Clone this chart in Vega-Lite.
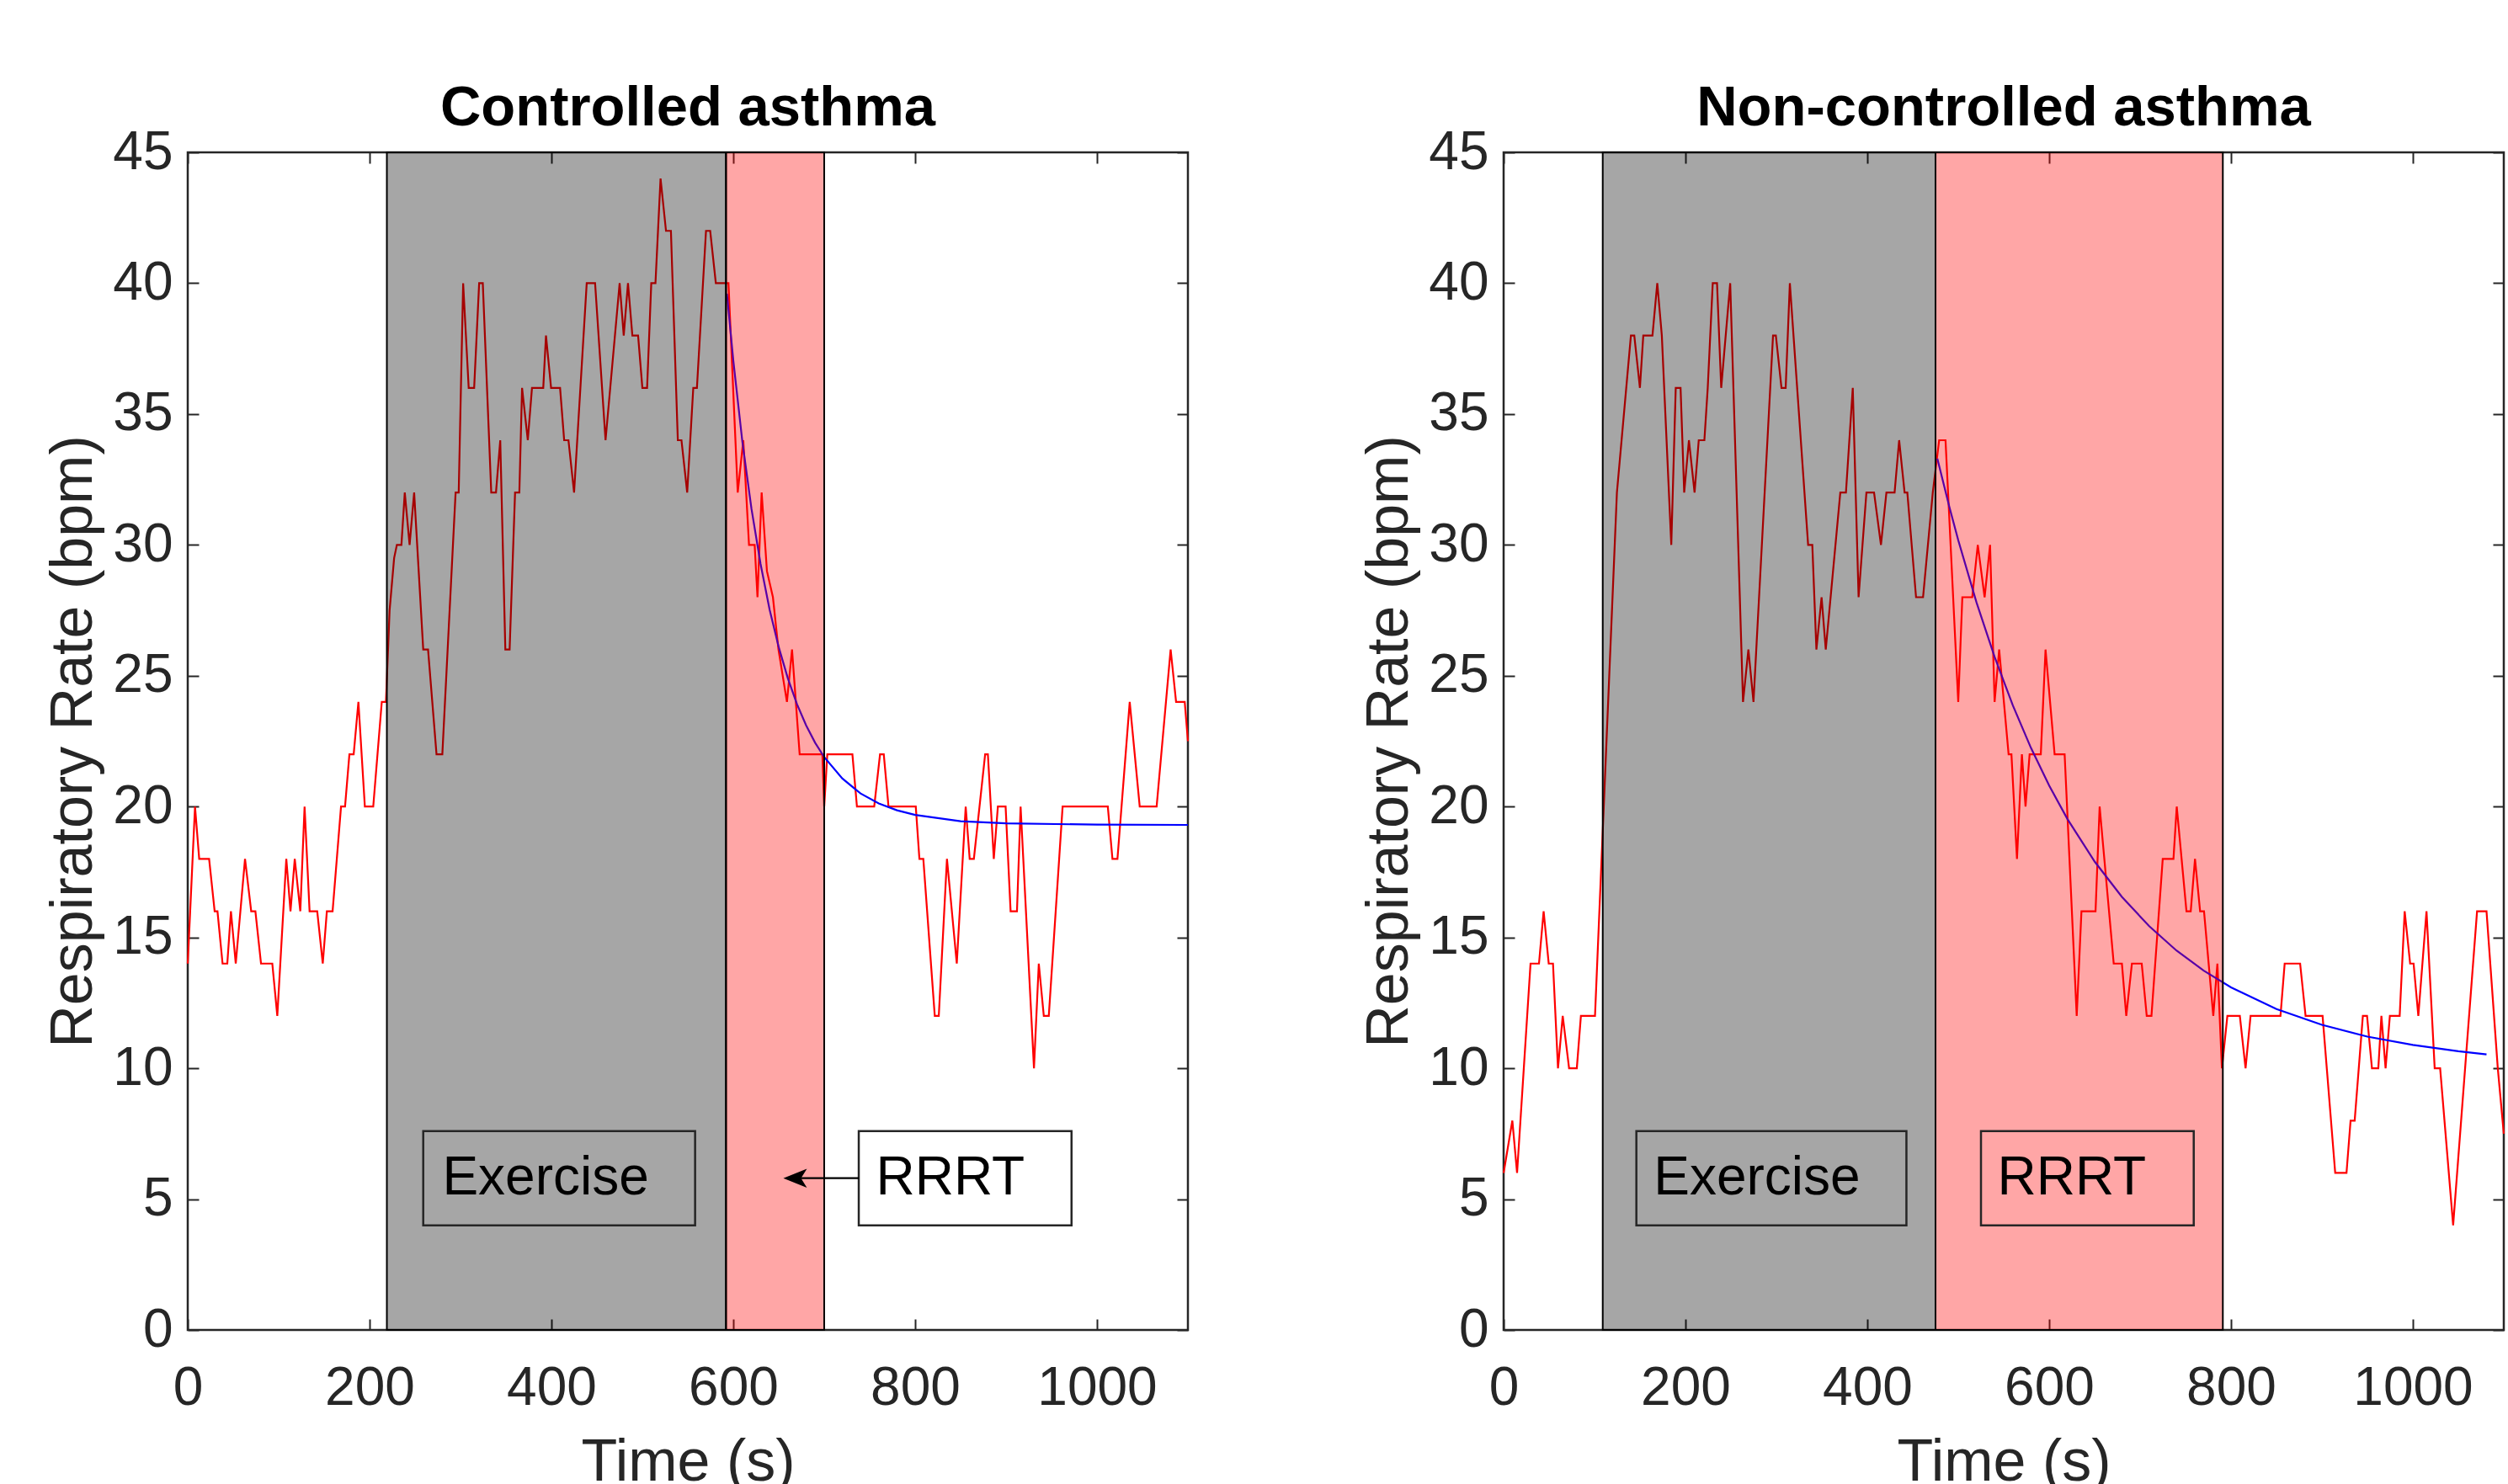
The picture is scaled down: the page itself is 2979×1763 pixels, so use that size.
{
  "$schema": "https://vega.github.io/schema/vega-lite/v6.json",
  "background": "white",
  "padding": {"left": 51, "top": 93, "right": 0, "bottom": 0},
  "spacing": 197,
  "config": {
    "font": "Liberation Sans",
    "view": {"stroke": "#262626", "strokeWidth": 2.5},
    "axis": {"grid": false, "domain": false, "tickColor": "#262626", "tickWidth": 2, "tickSize": -13,
      "labelFontSize": 64, "labelColor": "#262626", "titleFontSize": 70, "titleColor": "#262626",
      "titleFontWeight": "normal", "labelFont": "Liberation Sans", "titleFont": "Liberation Sans", "labelFlush": false, "labelOverlap": false},
    "title": {"fontSize": 67, "fontWeight": "bold", "color": "black", "offset": -14, "anchor": "middle", "font": "Liberation Sans"}
  },
  "datasets": {
    "left_rr": [
      {"t":0,"v":14},{"t":8,"v":20},{"t":12.6,"v":18},{"t":23.5,"v":18},{"t":29.6,"v":16},{"t":32.7,"v":16},{"t":38.3,"v":14},{"t":43.5,"v":14},{"t":47.5,"v":16},{"t":52.8,"v":14},{"t":63,"v":18},{"t":69.8,"v":16},{"t":74.4,"v":16},{"t":80.6,"v":14},{"t":93,"v":14},{"t":98.5,"v":12},{"t":108.4,"v":18},{"t":113,"v":16},{"t":117.7,"v":18},{"t":123.8,"v":16},{"t":128.5,"v":20},{"t":134,"v":16},{"t":142.4,"v":16},{"t":148.5,"v":14},{"t":153,"v":16},{"t":159.3,"v":16},{"t":168.6,"v":20},{"t":173,"v":20},{"t":177.8,"v":22},{"t":182.5,"v":22},{"t":187.7,"v":24},{"t":194.8,"v":20},{"t":204,"v":20},{"t":213.4,"v":24},{"t":218,"v":24},{"t":222,"v":27.5},{"t":227,"v":29.5},{"t":230,"v":30},{"t":235,"v":30},{"t":238.7,"v":32},{"t":244,"v":30},{"t":249,"v":32},{"t":259,"v":26},{"t":264.3,"v":26},{"t":273.6,"v":22},{"t":280,"v":22},{"t":294.6,"v":32},{"t":298,"v":32},{"t":302.9,"v":40},{"t":309,"v":36},{"t":315,"v":36},{"t":320.5,"v":40},{"t":324.5,"v":40},{"t":333.8,"v":32},{"t":339,"v":32},{"t":343.7,"v":34},{"t":349.3,"v":26},{"t":354,"v":26},{"t":360,"v":32},{"t":364.7,"v":32},{"t":367.7,"v":36},{"t":374,"v":34},{"t":378.6,"v":36},{"t":391,"v":36},{"t":394,"v":38},{"t":399.6,"v":36},{"t":409.5,"v":36},{"t":414,"v":34},{"t":418.7,"v":34},{"t":424.9,"v":32},{"t":438.8,"v":40},{"t":448,"v":40},{"t":459.5,"v":34},{"t":475,"v":40},{"t":479.5,"v":38},{"t":484.2,"v":40},{"t":489,"v":38},{"t":495.3,"v":38},{"t":500,"v":36},{"t":505.2,"v":36},{"t":509.8,"v":40},{"t":514.4,"v":40},{"t":520,"v":44},{"t":526,"v":42},{"t":531.4,"v":42},{"t":539,"v":34},{"t":543,"v":34},{"t":549.3,"v":32},{"t":556,"v":36},{"t":560,"v":36},{"t":570,"v":42},{"t":574.6,"v":42},{"t":580.8,"v":40},{"t":594.7,"v":40},{"t":604.9,"v":32},{"t":611,"v":34},{"t":617.3,"v":30},{"t":623.5,"v":30},{"t":626.6,"v":28},{"t":631.2,"v":32},{"t":637,"v":29},{"t":643.6,"v":28},{"t":649.7,"v":26},{"t":659,"v":24},{"t":664.6,"v":26},{"t":673,"v":22},{"t":698,"v":22},{"t":700,"v":20},{"t":703.4,"v":22},{"t":731,"v":22},{"t":736,"v":20},{"t":755,"v":20},{"t":761.4,"v":22},{"t":765.5,"v":22},{"t":770.7,"v":20},{"t":800.7,"v":20},{"t":804.7,"v":18},{"t":809,"v":18},{"t":821.6,"v":12},{"t":826,"v":12},{"t":835,"v":18},{"t":845.8,"v":14},{"t":855.6,"v":20},{"t":860,"v":18},{"t":864.6,"v":18},{"t":877,"v":22},{"t":880,"v":22},{"t":886.5,"v":18},{"t":891,"v":20},{"t":899.5,"v":20},{"t":905,"v":16},{"t":912,"v":16},{"t":916,"v":20},{"t":930.7,"v":10},{"t":936,"v":14},{"t":941.5,"v":12},{"t":947,"v":12},{"t":962.2,"v":20},{"t":1011.9,"v":20},{"t":1017,"v":18},{"t":1022.5,"v":18},{"t":1036,"v":24},{"t":1047,"v":20},{"t":1065.6,"v":20},{"t":1081,"v":26},{"t":1087,"v":24},{"t":1096.5,"v":24},{"t":1100,"v":22.5}
    ],
    "left_fit": [
      {"t":593,"v":39.6},{"t":600,"v":37.05},{"t":610,"v":33.94},{"t":620,"v":31.38},{"t":630,"v":29.27},{"t":640,"v":27.52},{"t":650,"v":26.09},{"t":660,"v":24.9},{"t":670,"v":23.92},{"t":680,"v":23.11},{"t":690,"v":22.44},{"t":700,"v":21.89},{"t":720,"v":21.07},{"t":740,"v":20.5},{"t":760,"v":20.12},{"t":780,"v":19.86},{"t":800,"v":19.68},{"t":850,"v":19.44},{"t":900,"v":19.36},{"t":1000,"v":19.31},{"t":1100,"v":19.3}
    ],
    "left_bands": [
      {"phase":"Exercise","start":219,"end":592},
      {"phase":"RRRT","start":592,"end":700}
    ],
    "left_boxes": [
      {"label":"Exercise","x0":259,"x1":558,"y0":4.0,"y1":7.6,"tx":280,"ty":5.8},
      {"label":"RRRT","x0":738,"x1":972,"y0":4.0,"y1":7.6,"tx":757,"ty":5.8}
    ],
    "left_arrow": [{"head":668,"tail":738,"back":672,"y":5.8}],
    "right_rr": [
      {"t":0,"v":6},{"t":9.6,"v":8},{"t":14.8,"v":6},{"t":29.6,"v":14},{"t":38.9,"v":14},{"t":44,"v":16},{"t":49.6,"v":14},{"t":54.3,"v":14},{"t":59.8,"v":10},{"t":65,"v":12},{"t":72,"v":10},{"t":80.5,"v":10},{"t":85,"v":12},{"t":100.5,"v":12},{"t":124.6,"v":32},{"t":140,"v":38},{"t":143.7,"v":38},{"t":149.9,"v":36},{"t":153.6,"v":38},{"t":163.7,"v":38},{"t":169,"v":40},{"t":174,"v":38},{"t":184.4,"v":30},{"t":189.3,"v":36},{"t":194.6,"v":36},{"t":198.6,"v":32},{"t":203.8,"v":34},{"t":210,"v":32},{"t":214.6,"v":34},{"t":220.8,"v":34},{"t":224.5,"v":36},{"t":230,"v":40},{"t":234.7,"v":40},{"t":239.3,"v":36},{"t":249.2,"v":40},{"t":263.3,"v":24},{"t":269.2,"v":26},{"t":274.8,"v":24},{"t":296.3,"v":38},{"t":299.4,"v":38},{"t":305.6,"v":36},{"t":310.2,"v":36},{"t":314.8,"v":40},{"t":334.9,"v":30},{"t":339.5,"v":30},{"t":344,"v":26},{"t":349.7,"v":28},{"t":354.3,"v":26},{"t":370.3,"v":32},{"t":376.5,"v":32},{"t":384,"v":36},{"t":390.4,"v":28},{"t":399,"v":32},{"t":407.4,"v":32},{"t":415,"v":30},{"t":421,"v":32},{"t":430,"v":32},{"t":435,"v":34},{"t":441,"v":32},{"t":444,"v":32},{"t":453.6,"v":28},{"t":461.3,"v":28},{"t":472,"v":32},{"t":479,"v":34},{"t":486,"v":34},{"t":500,"v":24},{"t":504.5,"v":28},{"t":515.4,"v":28},{"t":521.5,"v":30},{"t":529,"v":28},{"t":535,"v":30},{"t":540,"v":24},{"t":545,"v":26},{"t":555.4,"v":22},{"t":558.5,"v":22},{"t":564.6,"v":18},{"t":570,"v":22},{"t":574,"v":20},{"t":578.5,"v":22},{"t":590.8,"v":22},{"t":596,"v":26},{"t":606,"v":22},{"t":617,"v":22},{"t":630.3,"v":12},{"t":635.5,"v":16},{"t":651,"v":16},{"t":655.5,"v":20},{"t":671,"v":14},{"t":680,"v":14},{"t":684.8,"v":12},{"t":691,"v":14},{"t":701.8,"v":14},{"t":707.3,"v":12},{"t":712.5,"v":12},{"t":724.9,"v":18},{"t":736.7,"v":18},{"t":740.3,"v":20},{"t":751,"v":16},{"t":755.7,"v":16},{"t":760.4,"v":18},{"t":766,"v":16},{"t":770.3,"v":16},{"t":780.5,"v":12},{"t":785,"v":14},{"t":790,"v":10},{"t":796,"v":12},{"t":809.7,"v":12},{"t":816,"v":10},{"t":821.5,"v":12},{"t":854.4,"v":12},{"t":859,"v":14},{"t":876,"v":14},{"t":882,"v":12},{"t":900.7,"v":12},{"t":914.6,"v":6},{"t":927,"v":6},{"t":931.5,"v":8},{"t":936,"v":8},{"t":945,"v":12},{"t":949.6,"v":12},{"t":955,"v":10},{"t":962,"v":10},{"t":965.4,"v":12},{"t":970,"v":10},{"t":974.7,"v":12},{"t":985.5,"v":12},{"t":991,"v":16},{"t":997,"v":14},{"t":1000.8,"v":14},{"t":1006,"v":12},{"t":1015,"v":16},{"t":1024,"v":10},{"t":1030,"v":10},{"t":1044.3,"v":4},{"t":1070.6,"v":16},{"t":1081,"v":16},{"t":1093.4,"v":10},{"t":1100,"v":7.5}
    ],
    "right_fit": [
      {"t":477,"v":33.3},{"t":490,"v":31.48},{"t":500,"v":30.18},{"t":520,"v":27.81},{"t":540,"v":25.72},{"t":560,"v":23.87},{"t":580,"v":22.24},{"t":600,"v":20.8},{"t":620,"v":19.53},{"t":650,"v":17.9},{"t":680,"v":16.55},{"t":710,"v":15.43},{"t":740,"v":14.5},{"t":770,"v":13.73},{"t":800,"v":13.09},{"t":850,"v":12.26},{"t":900,"v":11.66},{"t":950,"v":11.21},{"t":1000,"v":10.89},{"t":1050,"v":10.65},{"t":1081,"v":10.53}
    ],
    "right_bands": [
      {"phase":"Exercise","start":109,"end":475},
      {"phase":"RRRT","start":475,"end":791}
    ],
    "right_boxes": [
      {"label":"Exercise","x0":146,"x1":443,"y0":4.0,"y1":7.6,"tx":165,"ty":5.8},
      {"label":"RRRT","x0":525,"x1":759,"y0":4.0,"y1":7.6,"tx":543,"ty":5.8}
    ]
  },
  "hconcat": [
    {
      "width": 1188, "height": 1399,
      "title": {"text": "Controlled asthma"},
      "layer": [
        {"data": {"name": "left_rr"}, "mark": {"type": "line", "color": "#ff0000", "strokeWidth": 2.2},
          "encoding": {
            "x": {"field": "t", "type": "quantitative", "scale": {"domain": [0, 1100], "nice": false, "zero": false},
              "axis": {"orient": "bottom", "values": [0, 200, 400, 600, 800, 1000], "format": "d", "labelPadding": 50, "title": "Time (s)", "titlePadding": 22}},
            "y": {"field": "v", "type": "quantitative", "scale": {"domain": [0, 45], "nice": false},
              "axis": {"orient": "left", "values": [0, 5, 10, 15, 20, 25, 30, 35, 40, 45], "labelPadding": 31, "title": "Respiratory Rate (bpm)", "titlePadding": 10}}
          }},
        {"data": {"name": "left_fit"}, "mark": {"type": "line", "color": "#0000ff", "strokeWidth": 2.2},
          "encoding": {
            "x": {"field": "t", "type": "quantitative", "axis": {"orient": "top", "values": [0, 200, 400, 600, 800, 1000], "labels": false, "title": null}},
            "y": {"field": "v", "type": "quantitative", "axis": {"orient": "right", "values": [0, 5, 10, 15, 20, 25, 30, 35, 40, 45], "labels": false, "title": null}}
          }},
        {"data": {"name": "left_bands"}, "mark": {"type": "rect", "stroke": "#000000", "strokeWidth": 2, "fillOpacity": 0.35},
          "encoding": {
            "x": {"field": "start", "type": "quantitative", "axis": null},
            "x2": {"field": "end"},
            "y": {"datum": 0, "type": "quantitative", "axis": null},
            "y2": {"datum": 45},
            "fill": {"field": "phase", "type": "nominal", "scale": {"domain": ["Exercise", "RRRT"], "range": ["#000000", "#ff0000"]}, "legend": null}
          }},
        {"data": {"name": "left_boxes"}, "mark": {"type": "rect", "fillOpacity": 0, "fill": "white", "stroke": "#262626", "strokeWidth": 2.5},
          "encoding": {
            "x": {"field": "x0", "type": "quantitative", "axis": null},
            "x2": {"field": "x1"},
            "y": {"field": "y0", "type": "quantitative", "axis": null},
            "y2": {"field": "y1"}
          }},
        {"data": {"name": "left_boxes"}, "mark": {"type": "text", "align": "left", "baseline": "middle", "fontSize": 64, "color": "#000000", "font": "Liberation Sans"},
          "encoding": {
            "x": {"field": "tx", "type": "quantitative", "axis": null},
            "y": {"field": "ty", "type": "quantitative", "axis": null},
            "text": {"field": "label"}
          }},
        {"data": {"name": "left_arrow"}, "mark": {"type": "rule", "color": "#000000", "strokeWidth": 2.2},
          "encoding": {
            "x": {"field": "back", "type": "quantitative", "axis": null},
            "x2": {"field": "tail"},
            "y": {"field": "y", "type": "quantitative", "axis": null}
          }},
        {"data": {"name": "left_arrow"}, "mark": {"type": "point", "shape": "M -1 0 L 1 -0.8 L 0.5 0 L 1 0.8 Z", "filled": true, "color": "#000000", "opacity": 1, "size": 784},
          "encoding": {
            "x": {"field": "head", "type": "quantitative", "axis": null},
            "y": {"field": "y", "type": "quantitative", "axis": null}
          }}
      ],
      "resolve": {"axis": {"x": "independent", "y": "independent"}}
    },
    {
      "width": 1188, "height": 1399,
      "title": {"text": "Non-controlled asthma"},
      "layer": [
        {"data": {"name": "right_rr"}, "mark": {"type": "line", "color": "#ff0000", "strokeWidth": 2.2},
          "encoding": {
            "x": {"field": "t", "type": "quantitative", "scale": {"domain": [0, 1100], "nice": false, "zero": false},
              "axis": {"orient": "bottom", "values": [0, 200, 400, 600, 800, 1000], "format": "d", "labelPadding": 50, "title": "Time (s)", "titlePadding": 22}},
            "y": {"field": "v", "type": "quantitative", "scale": {"domain": [0, 45], "nice": false},
              "axis": {"orient": "left", "values": [0, 5, 10, 15, 20, 25, 30, 35, 40, 45], "labelPadding": 31, "title": "Respiratory Rate (bpm)", "titlePadding": 10}}
          }},
        {"data": {"name": "right_fit"}, "mark": {"type": "line", "color": "#0000ff", "strokeWidth": 2.2},
          "encoding": {
            "x": {"field": "t", "type": "quantitative", "axis": {"orient": "top", "values": [0, 200, 400, 600, 800, 1000], "labels": false, "title": null}},
            "y": {"field": "v", "type": "quantitative", "axis": {"orient": "right", "values": [0, 5, 10, 15, 20, 25, 30, 35, 40, 45], "labels": false, "title": null}}
          }},
        {"data": {"name": "right_bands"}, "mark": {"type": "rect", "stroke": "#000000", "strokeWidth": 2, "fillOpacity": 0.35},
          "encoding": {
            "x": {"field": "start", "type": "quantitative", "axis": null},
            "x2": {"field": "end"},
            "y": {"datum": 0, "type": "quantitative", "axis": null},
            "y2": {"datum": 45},
            "fill": {"field": "phase", "type": "nominal", "scale": {"domain": ["Exercise", "RRRT"], "range": ["#000000", "#ff0000"]}, "legend": null}
          }},
        {"data": {"name": "right_boxes"}, "mark": {"type": "rect", "fillOpacity": 0, "fill": "white", "stroke": "#262626", "strokeWidth": 2.5},
          "encoding": {
            "x": {"field": "x0", "type": "quantitative", "axis": null},
            "x2": {"field": "x1"},
            "y": {"field": "y0", "type": "quantitative", "axis": null},
            "y2": {"field": "y1"}
          }},
        {"data": {"name": "right_boxes"}, "mark": {"type": "text", "align": "left", "baseline": "middle", "fontSize": 64, "color": "#000000", "font": "Liberation Sans"},
          "encoding": {
            "x": {"field": "tx", "type": "quantitative", "axis": null},
            "y": {"field": "ty", "type": "quantitative", "axis": null},
            "text": {"field": "label"}
          }}
      ],
      "resolve": {"axis": {"x": "independent", "y": "independent"}}
    }
  ]
}
